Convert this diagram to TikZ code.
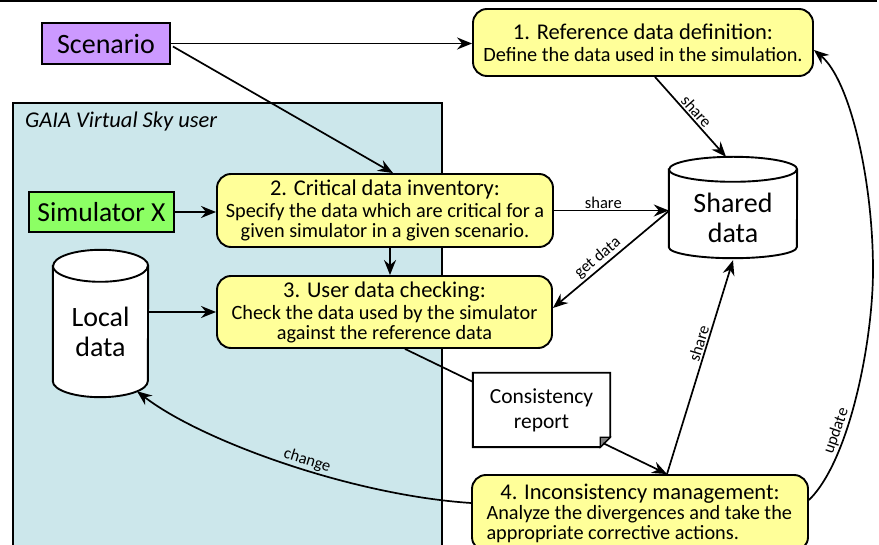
\documentclass[tikz,border=0pt]{standalone}
\usepackage{fontspec}
\setmainfont{Carlito}
\usetikzlibrary{arrows.meta,calc,positioning}
\definecolor{scnpurple}{RGB}{204,153,255}
\definecolor{simgreen}{RGB}{140,255,100}
\definecolor{stepyellow}{RGB}{255,255,153}
\definecolor{gaiablue}{RGB}{204,231,235}
\definecolor{foldgray}{RGB}{128,128,128}
\newcommand{\ttl}{\fontsize{22.5}{24}\selectfont}
\tikzset{
  tip/.tip={Stealth[length=15pt,width=12pt,inset=5pt]},
  arr/.style={line width=1.7pt,-tip},
  rarr/.style={line width=1.7pt,tip-},
  plain/.style={line width=1.7pt},
  lbl/.style={font=\fontsize{16.5}{17}\selectfont, inner sep=1.5pt},
  stepbox/.style={draw, line width=1.9pt, fill=stepyellow, rounded corners=14pt,
    align=center, font=\fontsize{20.3}{20}\selectfont, inner sep=0pt},
  tagbox/.style={draw, line width=1.9pt, inner sep=0pt, font=\fontsize{28}{29}\selectfont},
  cylanchor/.style={inner sep=0pt, draw=none},
  cylline/.style={draw, line width=1.9pt, fill=white},
}
\begin{document}
\begin{tikzpicture}[x=1pt,y=-1pt]
\useasboundingbox (0,0) rectangle (879,545);
\clip (0,0) rectangle (879,545);
\fill[white] (0,0) rectangle (879,545);
% top rule
\fill[black] (0,0) rectangle (877,2.5);
% GAIA container
\draw[line width=1.9pt, fill=gaiablue] (13,103) rectangle (442,560);
\node[anchor=west, font=\itshape\fontsize{22.5}{23}\selectfont, inner sep=0pt] (gaia) at (25,122) {GAIA Virtual Sky user};

% tags
\node[tagbox, fill=scnpurple, minimum width=128pt, minimum height=41pt] (scn) at (106,43.5) {Scenario};
\node[tagbox, fill=simgreen, minimum width=145pt, minimum height=40pt, font=\fontsize{27.5}{28}\selectfont] (sim) at (101.5,212) {Simulator X};

% steps
\node[stepbox, minimum width=340pt, minimum height=67pt] (b1) at (643,42.5)
  {{\ttl 1. Reference data definition:}\\[2pt]Define the data used in the simulation.};
\node[stepbox, minimum width=336pt, minimum height=73pt] (b2) at (385,210.5)
  {{\ttl 2. Critical data inventory:}\\[2pt]Specify the data which are critical for a\\given simulator in a given scenario.};
\node[stepbox, minimum width=335pt, minimum height=72pt] (b3) at (384.5,312)
  {{\ttl 3. User data checking:}\\[2pt]Check the data used by the simulator\\against the reference data};
\node[stepbox, align=left, minimum width=336pt, minimum height=76pt] (b4) at (640,513)
  {\makebox[307pt][c]{\ttl 4. Inconsistency management:}\\Analyze the divergences and take the\\appropriate corrective actions.};

% shared data cylinder
\node[cylanchor, minimum width=128pt, minimum height=101pt] (sd) at (733,207.5) {};
\path[cylline] ($(sd.north west)+(0,12.5)$) -- ($(sd.south west)+(0,-11)$)
  arc[start angle=180, end angle=360, x radius=64pt, y radius=11pt]
  -- ($(sd.north east)+(0,12.5)$)
  arc[start angle=0, end angle=180, x radius=64pt, y radius=12.5pt] -- cycle;
\draw[line width=1.9pt] ($(sd.north west)+(0,12.5)$)
  arc[start angle=180, end angle=360, x radius=64pt, y radius=12.5pt];
\node[align=center, font=\fontsize{28}{30}\selectfont, inner sep=0pt] (sdt) at (733,218) {Shared\\data};

% local data cylinder
\node[cylanchor, minimum width=95pt, minimum height=147pt] (ld) at (100.5,323.5) {};
\path[cylline] ($(ld.north west)+(0,16)$) -- ($(ld.south west)+(0,-16)$)
  arc[start angle=180, end angle=360, x radius=47.5pt, y radius=16pt]
  -- ($(ld.north east)+(0,16)$)
  arc[start angle=0, end angle=180, x radius=47.5pt, y radius=16pt] -- cycle;
\draw[line width=1.9pt] ($(ld.north west)+(0,16)$)
  arc[start angle=180, end angle=360, x radius=47.5pt, y radius=16pt];
\node[align=center, font=\fontsize{28}{30}\selectfont, inner sep=0pt] (ldt) at (100.5,332) {Local\\data};

% consistency report
\node[cylanchor, minimum width=137pt, minimum height=74pt, align=center,
  font=\fontsize{21.5}{25}\selectfont] (rp) at (541.5,410) {Consistency\\report};
\draw[line width=1.9pt] (rp.north west) -- (rp.north east) -- ($(rp.south east)+(0,-10)$)
  -- ($(rp.south east)+(-10,0)$) -- (rp.south west) -- cycle;
\filldraw[fill=foldgray, line width=1.2pt] ($(rp.south east)+(-10,-10)$) -- ($(rp.south east)+(0,-10)$)
  -- ($(rp.south east)+(-10,0)$) -- cycle;

% connectors
\draw[arr] (scn.east) -- (scn.east -| b1.west);
\draw[arr] ($(scn.east)+(2,3)$) -- ([xshift=8pt]b2.north);
\draw[arr] (sim.east) -- (sim.east -| b2.west);
\draw[arr] ([xshift=5pt]b2.south) -- ([xshift=5.5pt]b3.north);
\draw[arr] (b3.west -| ld.east) -- (b3.west);
\draw[arr] ([xshift=12pt]b1.south) -- node[lbl, sloped, above] {share} ([xshift=-7pt]sd.north);
\draw[arr] (b2.east) -- node[lbl, above, pos=0.43] {share} (b2.east -| sd.west);
\draw[rarr] ([yshift=4pt]b3.east) -- node[lbl, sloped, above, pos=0.44] {get data} ([yshift=-3.5pt]sd.west);
\draw[plain] ([xshift=20.5pt]b3.south) -- ($(rp.north west)+(0,9)$);
\draw[arr] ($(rp.south east)+(-7,-4)$) -- ([xshift=27pt]b4.north);
\draw[arr] ([xshift=27pt]b4.north) -- node[lbl, sloped, above, pos=0.6] {share} ([yshift=-2pt]sd.south);
\draw[arr] ([yshift=13pt]b4.east) .. controls (850,460) and (873,340) .. (873,270)
  node[lbl, sloped, above, pos=0.35] {update}
  .. controls (873,180) and (850,80) .. ([yshift=-7.5pt]b1.east);
\draw[rarr] ($(ld.south)+(36.5,-6)$)
  .. controls (200,440) and (350,495) .. node[lbl, sloped, above, pos=0.56] {change} ([yshift=10pt]b4.west);
\end{tikzpicture}
\end{document}
